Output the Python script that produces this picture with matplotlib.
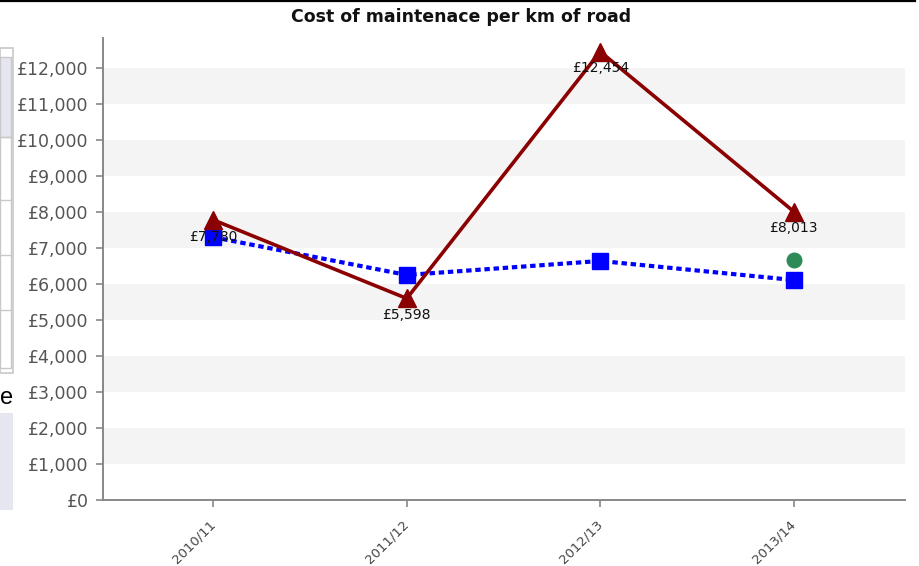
import matplotlib
matplotlib.use("Agg")
import matplotlib.pyplot as plt
from matplotlib.patches import Rectangle
from matplotlib.lines import Line2D
from matplotlib.ticker import FuncFormatter, MultipleLocator
from matplotlib.transforms import ScaledTranslation

plt.rcParams['font.family'] = ['DejaVu Sans']

years = ["2010/11", "2011/12", "2012/13", "2013/14"]
cost_actual = [7780, 5598, 12454, 8013]
cost_average = [7300, 6250, 6640, 6110]
target_year = "2013/14"
target_value = 6670

W, H = 919, 566
fig = plt.figure(figsize=(W / 100, H / 100), dpi=100)

ax = fig.add_axes([103 / W, (H - 500) / H, (905 - 103) / W, (500 - 38) / H])

x = list(range(len(years)))
ax.set_xlim(-0.57, 3.575)
ax.set_ylim(0, 12833)

# alternating horizontal bands
for lo in range(1000, 12001, 2000):
    ax.axhspan(lo, lo + 1000, color="#f4f4f4", zorder=0, lw=0)

ax.plot(x, cost_average, color="#0000ff", lw=3.0, ls=(0, (1.3, 0.9)),
        marker="s", ms=11, mec="#0000ff", mfc="#0000ff", zorder=3)
ax.plot(x, cost_actual, color="#8b0000", lw=2.6,
        marker="^", ms=13, mec="#8b0000", mfc="#8b0000", zorder=4)
ax.plot([years.index(target_year)], [target_value], marker="o", ms=10.5,
        color="#2e8b57", ls="none", zorder=3)

for xi, v in zip(x, cost_actual):
    ax.annotate(f"£{v:,}", (xi, v), xytext=(0, -12), textcoords="offset points",
                ha="center", va="center", fontsize=10, color="#111111", zorder=5)

ax.yaxis.set_major_locator(MultipleLocator(1000))
ax.yaxis.set_major_formatter(FuncFormatter(lambda v, p: f"£{int(v):,}"))
ax.set_xticks(x)
ax.set_xticklabels(years, rotation=45, ha="right", va="center",
                   rotation_mode="anchor", fontsize=9.5, color="#444444")
shift = ScaledTranslation(8 / 100, 0, fig.dpi_scale_trans)
for lab in ax.get_xticklabels():
    lab.set_transform(lab.get_transform() + shift)
ax.tick_params(axis="y", labelsize=12.5, labelcolor="#555555", color="#888888",
               length=5, width=1.2, pad=5.5)
ax.tick_params(axis="x", color="#888888", length=5, width=1.2, pad=11)

for side in ("top", "right"):
    ax.spines[side].set_visible(False)
for side in ("left", "bottom"):
    ax.spines[side].set_color("#888888")
    ax.spines[side].set_linewidth(1.4)

fig.text(461 / W, 1 - 17 / H, "Cost of maintenace per km of road",
         ha="center", va="center", fontsize=12.5, fontweight="bold",
         color="#111111")

# window frame pieces around the chart
fig.add_artist(Line2D([0, 915 / W], [1 - 1 / H, 1 - 1 / H], color="black", lw=1.6))
fig.add_artist(Rectangle((0, 1 - 373 / H), 12.5 / W, (373 - 48) / H, fill=False,
                         ec="#c8c8c8", lw=1.2))
fig.add_artist(Rectangle((0, 1 - 137 / H), 11 / W, (137 - 57) / H,
                         fc="#e6e6f0", ec="#c8c8c8", lw=1))
for yy in (200, 255, 310):
    fig.add_artist(Line2D([0, 11 / W], [1 - yy / H, 1 - yy / H], color="#c8c8c8", lw=1))
fig.add_artist(Rectangle((0, 1 - 368 / H), 11 / W, (368 - 137) / H, fill=False,
                         ec="#c8c8c8", lw=1))
fig.add_artist(Rectangle((0, 1 - 510 / H), 12.5 / W, (510 - 413) / H,
                         fc="#e6e6f0", ec="none"))
fig.text(0, 1 - 398 / H, "e", ha="left", va="center", fontsize=17, color="black",
         family="Liberation Sans")

fig.savefig("out.png", dpi=100)
